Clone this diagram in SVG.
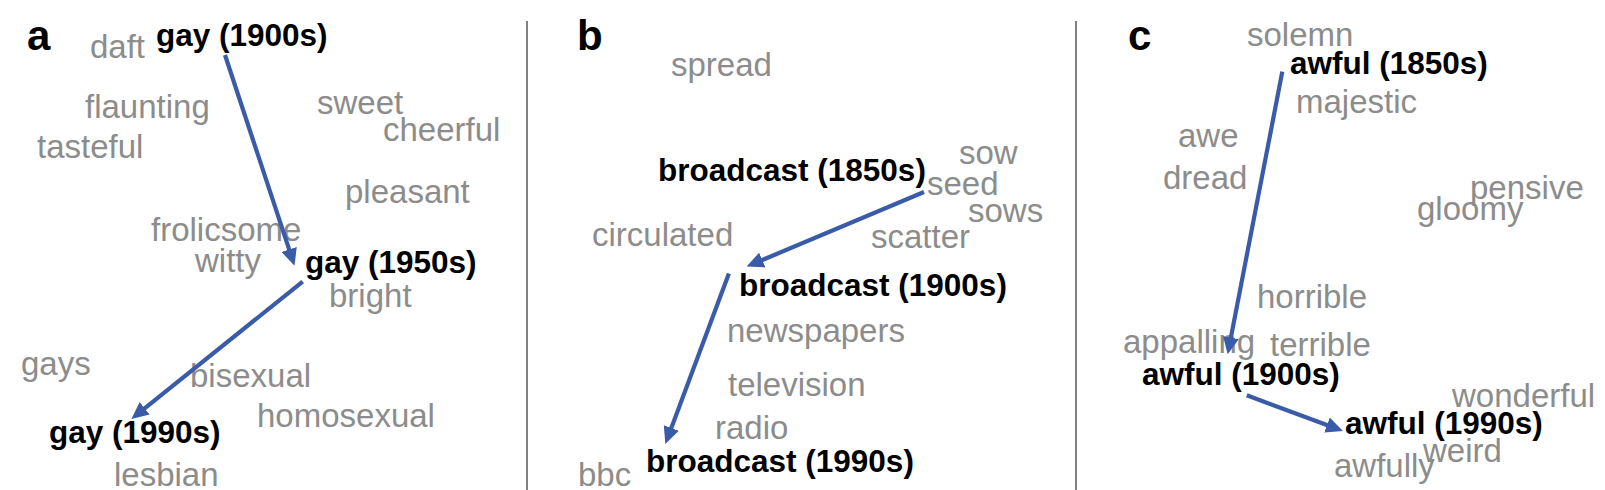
<svg xmlns="http://www.w3.org/2000/svg" width="1605" height="490" viewBox="0 0 1605 490">
<style>
text{font-family:"Liberation Sans",Arial,Helvetica,sans-serif}
.w{font-size:33px;fill:#8c8c8c}
.k{font-size:31.5px;font-weight:bold;fill:#000}
.p{font-size:42px;font-weight:bold;fill:#000}
.sep{stroke:#808080;stroke-width:2}
.arr{stroke:#3a5ba8;stroke-width:4.2;fill:none;marker-end:url(#ah)}
</style>
<defs>
<marker id="ah" markerUnits="userSpaceOnUse" markerWidth="17" markerHeight="16" refX="2" refY="8" orient="auto" viewBox="0 0 17 16">
<path d="M0,0 L17,8 L0,16 z" fill="#3a5ba8"/>
</marker>
</defs>
<g id="separators">
<line class="sep" x1="527" y1="21" x2="527" y2="490"/>
<line class="sep" x1="1076" y1="21" x2="1076" y2="490"/>
</g>
<g id="panel-labels">
<text class="p" x="27" y="50">a</text>
<text class="p" x="577" y="50">b</text>
<text class="p" x="1128" y="50">c</text>
</g>
<g id="words-a">
<text class="w" x="90" y="58">daft</text>
<text class="w" x="85" y="118">flaunting</text>
<text class="w" x="317" y="114">sweet</text>
<text class="w" x="383" y="141">cheerful</text>
<text class="w" x="37" y="158">tasteful</text>
<text class="w" x="345" y="203">pleasant</text>
<text class="w" x="151" y="241">frolicsome</text>
<text class="w" x="195" y="272">witty</text>
<text class="w" x="329" y="307">bright</text>
<text class="w" x="21" y="375">gays</text>
<text class="w" x="190" y="387">bisexual</text>
<text class="w" x="257" y="427">homosexual</text>
<text class="w" x="114" y="486">lesbian</text>
</g>
<g id="node-gay-1900s"><text class="k" x="156" y="46">gay (1900s)</text></g>
<g id="node-gay-1950s"><text class="k" x="305" y="273">gay (1950s)</text></g>
<g id="node-gay-1990s"><text class="k" x="49" y="443">gay (1990s)</text></g>
<g id="words-b">
<text class="w" x="671" y="76">spread</text>
<text class="w" x="959" y="164">sow</text>
<text class="w" x="927" y="195">seed</text>
<text class="w" x="968" y="222">sows</text>
<text class="w" x="592" y="246">circulated</text>
<text class="w" x="871" y="248">scatter</text>
<text class="w" x="727" y="342">newspapers</text>
<text class="w" x="728" y="396">television</text>
<text class="w" x="715" y="439">radio</text>
<text class="w" x="578" y="486">bbc</text>
</g>
<g id="node-broadcast-1850s"><text class="k" x="658" y="181">broadcast (1850s)</text></g>
<g id="node-broadcast-1900s"><text class="k" x="739" y="296">broadcast (1900s)</text></g>
<g id="node-broadcast-1990s"><text class="k" x="646" y="472">broadcast (1990s)</text></g>
<g id="words-c">
<text class="w" x="1247" y="46">solemn</text>
<text class="w" x="1296" y="113">majestic</text>
<text class="w" x="1178" y="147">awe</text>
<text class="w" x="1163" y="189">dread</text>
<text class="w" x="1470" y="199">pensive</text>
<text class="w" x="1417" y="220">gloomy</text>
<text class="w" x="1257" y="308">horrible</text>
<text class="w" x="1123" y="353">appalling</text>
<text class="w" x="1270" y="356">terrible</text>
<text class="w" x="1452" y="407">wonderful</text>
<text class="w" x="1423" y="462">weird</text>
<text class="w" x="1334" y="477">awfully</text>
</g>
<g id="node-awful-1850s"><text class="k" x="1290" y="74">awful (1850s)</text></g>
<g id="node-awful-1900s"><text class="k" x="1142" y="385">awful (1900s)</text></g>
<g id="node-awful-1990s"><text class="k" x="1345" y="434">awful (1990s)</text></g>
<g id="connectors">
<line class="arr" x1="225" y1="55" x2="289.8" y2="251.4"/>
<line class="arr" x1="302.7" y1="281.6" x2="143.1" y2="409.6"/>
<line class="arr" x1="924" y1="192" x2="760.4" y2="260.8"/>
<line class="arr" x1="728.9" y1="273.4" x2="670.6" y2="429.9"/>
<line class="arr" x1="1282.3" y1="71.7" x2="1230.5" y2="339.6"/>
<line class="arr" x1="1246.8" y1="395.3" x2="1328.9" y2="425.8"/>
</g>
</svg>
